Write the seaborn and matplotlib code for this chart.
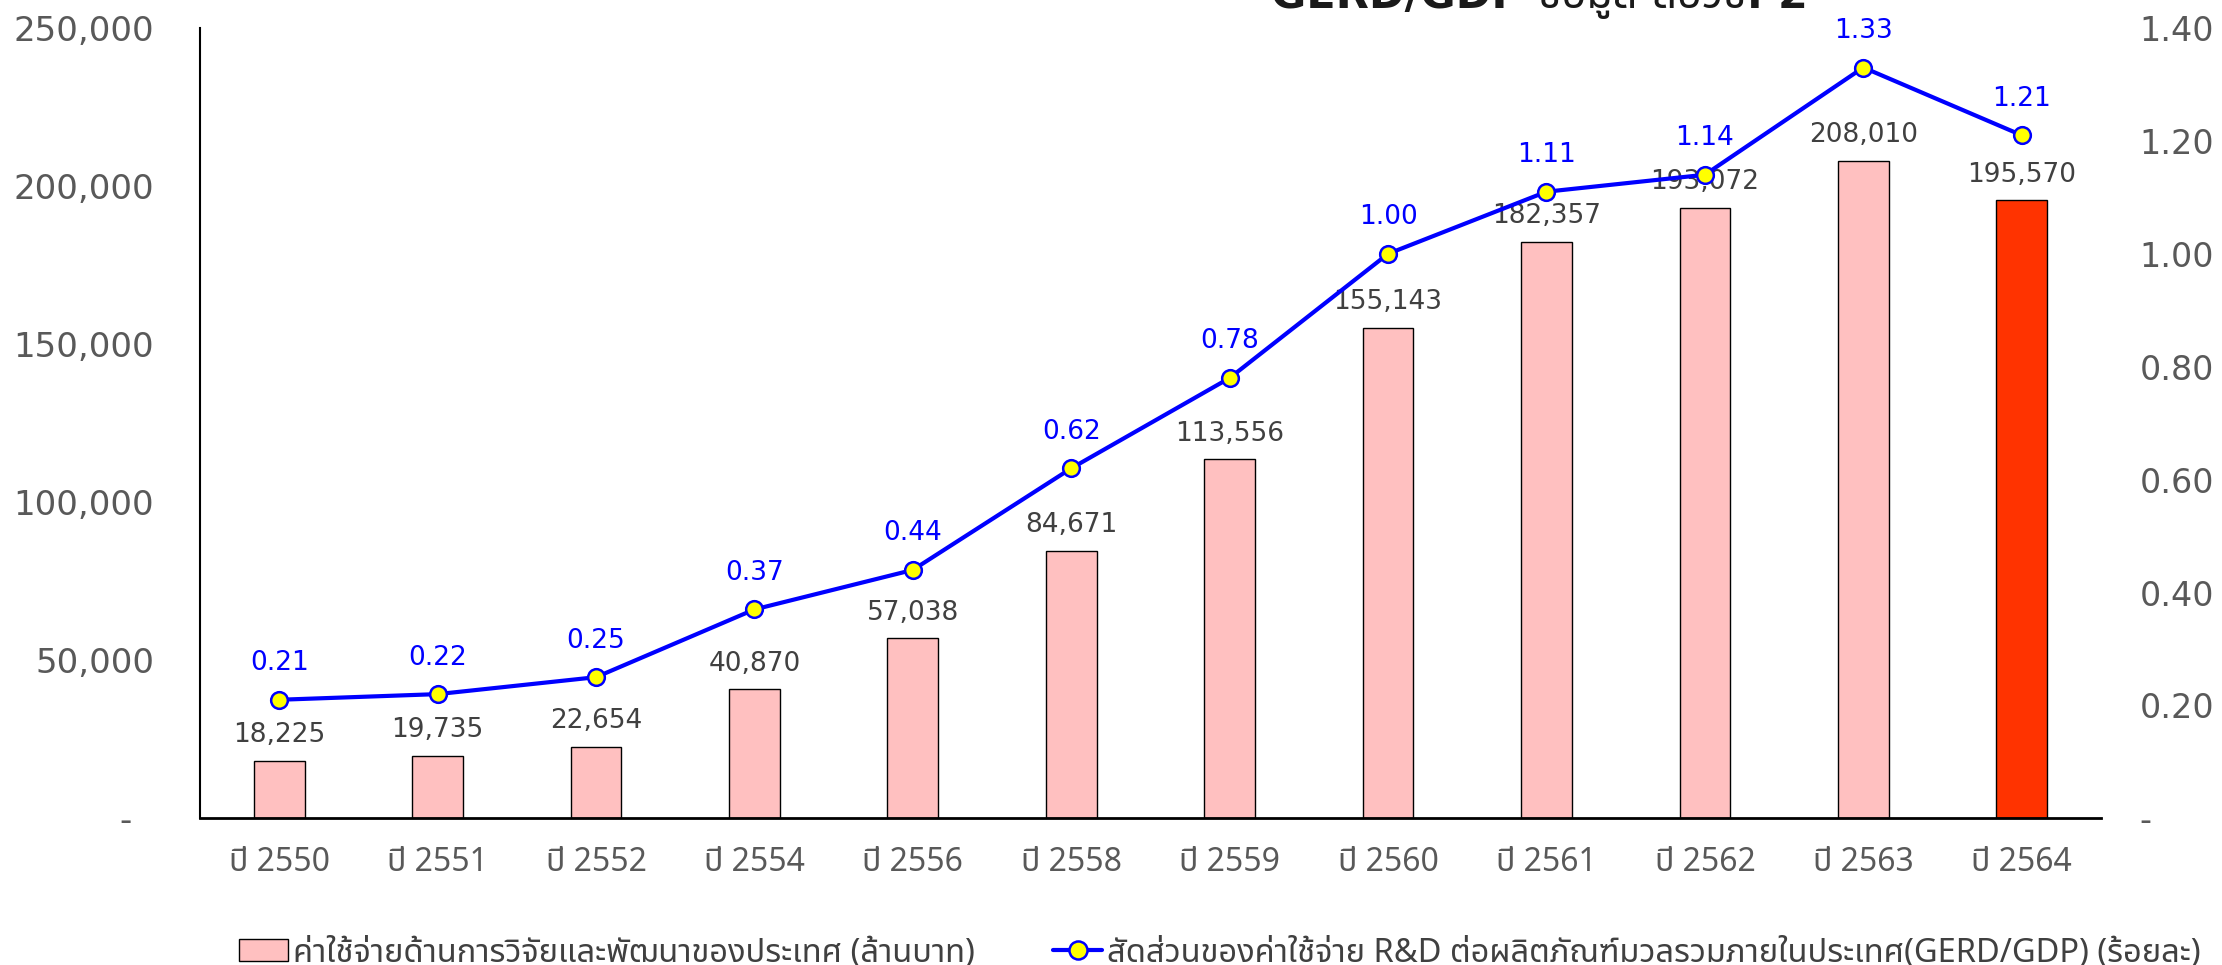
import matplotlib
matplotlib.use("Agg")
import matplotlib.pyplot as plt
from matplotlib import font_manager
from matplotlib.ft2font import FT2Font
from matplotlib.patches import Patch
from matplotlib.lines import Line2D
import seaborn as sns
import pandas as pd

years = ["ปี 2550", "ปี 2551", "ปี 2552", "ปี 2554", "ปี 2556", "ปี 2558",
         "ปี 2559", "ปี 2560", "ปี 2561", "ปี 2562", "ปี 2563", "ปี 2564"]
gerd = [18225, 19735, 22654, 40870, 57038, 84671, 113556, 155143,
        182357, 193072, 208010, 195570]
ratio = [0.21, 0.22, 0.25, 0.37, 0.44, 0.62, 0.78, 1.00, 1.11, 1.14, 1.33, 1.21]
bar_colors = ["#FFC0C0"] * 11 + ["#FF3300"]
left_ticks = [0, 50000, 100000, 150000, 200000, 250000]
right_ticks = [0, 0.2, 0.4, 0.6, 0.8, 1.0, 1.2, 1.4]
legend_bar = "ค่าใช้จ่ายด้านการวิจัยและพัฒนาของประเทศ (ล้านบาท)"
legend_line = "สัดส่วนของค่าใช้จ่าย R&D ต่อผลิตภัณฑ์มวลรวมภายในประเทศ(GERD/GDP) (ร้อยละ)"
title = "GERD/GDP ข้อมูล สอวช. 2"

sns.set_style("white")

# find a font with Thai glyphs
thai_family = None
pref = ["Noto Sans Thai", "Noto Sans Thai UI", "Noto Sans Thai Looped", "Tlwg Typo",
        "Loma", "Garuda", "Waree", "Kinnari", "Sawasdee", "Umpush"]
cands = {}
for f in font_manager.fontManager.ttflist:
    try:
        cm = FT2Font(f.fname).get_charmap()
        if 0x0E1B in cm and 0x0E35 in cm:
            cands.setdefault(f.name, f.fname)
    except Exception:
        pass
for p in pref:
    if p in cands:
        thai_family = p
        break
if thai_family is None and cands:
    thai_family = sorted(cands)[0]
fams = ([thai_family] if thai_family else []) + ["DejaVu Sans"]
plt.rcParams["font.family"] = fams

df = pd.DataFrame({"year": years, "gerd": gerd, "ratio": ratio})

fig = plt.figure(figsize=(22.22, 9.65), dpi=100)
ax = fig.add_axes([0.09, 0.152, 0.8555, 0.819])

sns.barplot(data=df, x="year", y="gerd", hue="year", palette=bar_colors,
            legend=False, width=0.32, edgecolor="black", linewidth=1, ax=ax,
            saturation=1)
ax.set_ylim(0, 250000)
ax.set_xlim(-0.5, len(years) - 0.5)
ax.set_yticks(left_ticks)
ax.set_yticklabels(["-\u2007"] + [f"{v:,}" for v in left_ticks[1:]],
                   fontsize=24.5, color="#595959", family="DejaVu Sans")
ax.set_xlabel("")
ax.set_ylabel("")
ax.tick_params(axis="x", labelsize=23, colors="#595959", length=0, pad=20)
ax.tick_params(axis="y", length=0, pad=33)
for lbl in ax.get_xticklabels():
    lbl.set_family(fams)
for s in ["top", "right"]:
    ax.spines[s].set_visible(False)
ax.spines["left"].set_color("black")
ax.spines["bottom"].set_color("black")
ax.spines["left"].set_linewidth(1.5)
ax.spines["bottom"].set_linewidth(2)

for i, v in enumerate(gerd):
    ax.annotate(f"{v:,}", (i, v), xytext=(0, 9), textcoords="offset points",
                ha="center", va="bottom", fontsize=19, color="#404040",
                family="DejaVu Sans")

ax2 = ax.twinx()
sns.pointplot(data=df, x="year", y="ratio", color="#0000FF", markers="o",
              ax=ax2, linewidth=3, markersize=12)
for ln in ax2.lines:
    ln.set_markerfacecolor("#FFFF00")
    ln.set_markeredgecolor("#0000FF")
    ln.set_markeredgewidth(1.8)
    ln.set_linewidth(3)
ax2.set_ylim(0, 1.4)
ax2.set_xlim(-0.5, len(years) - 0.5)
ax2.set_yticks(right_ticks)
ax2.set_yticklabels(["-"] + [f"{v:.2f}" for v in right_ticks[1:]],
                    fontsize=24, color="#595959", family="DejaVu Sans")
ax2.tick_params(axis="y", length=0, pad=28)
ax2.set_ylabel("")
ax2.set_xlabel("")
for s in ["top", "right", "left", "bottom"]:
    ax2.spines[s].set_visible(False)

for i, v in enumerate(ratio):
    ax2.annotate(f"{v:.2f}", (i, v), xytext=(0, 17), textcoords="offset points",
                 ha="center", va="bottom", fontsize=19, color="#0000FF",
                 family="DejaVu Sans")

handles = [Patch(facecolor="#FFC0C0", edgecolor="black", linewidth=1),
           Line2D([0], [0], color="#0000FF", linewidth=3, marker="o",
                  markerfacecolor="#FFFF00", markeredgecolor="#0000FF",
                  markersize=13, markeredgewidth=1.8)]
fig.legend(handles, [legend_bar, legend_line], loc="lower center",
           bbox_to_anchor=(0.549, -0.035), ncol=2, frameon=False,
           fontsize=23.5, labelcolor="#404040", columnspacing=2.4,
           handlelength=1.5, handletextpad=0.15)

fig.text(0.693, 1 - 8 / 965, title, ha="center", va="baseline",
         fontsize=31, fontweight="heavy", color="#1a1a1a",
         family=["DejaVu Sans"] + fams)

fig.savefig("out.png", dpi=100)
